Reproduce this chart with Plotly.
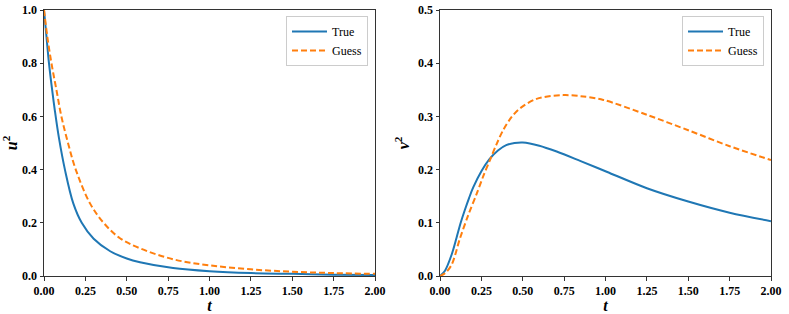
import plotly.graph_objects as go

# Left panel: u^2
t_u_true = [0, 0.015, 0.03, 0.045, 0.066, 0.09, 0.127, 0.177, 0.228, 0.3, 0.4, 0.5, 0.58, 0.78, 1.0, 1.25, 1.5, 1.75, 2.0]
u_true = [1.0, 0.9, 0.8, 0.72, 0.62, 0.52, 0.398, 0.273, 0.2, 0.14, 0.093, 0.066, 0.052, 0.03, 0.018, 0.011, 0.008, 0.005, 0.004]
t_u_guess = [0, 0.02, 0.045, 0.075, 0.105, 0.145, 0.193, 0.278, 0.36, 0.459, 0.58, 0.78, 1.0, 1.25, 1.5, 1.75, 2.0]
u_guess = [1.0, 0.9, 0.8, 0.7, 0.6, 0.5, 0.398, 0.273, 0.2, 0.142, 0.104, 0.063, 0.04, 0.025, 0.016, 0.011, 0.008]

# Right panel: v^2
t_v_true = [0, 0.03, 0.07, 0.1, 0.125, 0.15, 0.175, 0.2, 0.25, 0.3, 0.35, 0.4, 0.45, 0.5, 0.6, 0.705, 0.85, 1.007, 1.25, 1.5, 1.75, 2.0]
v_true = [0, 0.01, 0.04, 0.072, 0.1, 0.124, 0.146, 0.166, 0.197, 0.22, 0.236, 0.246, 0.25, 0.251, 0.245, 0.234, 0.216, 0.196, 0.165, 0.14, 0.119, 0.103]
t_v_guess = [0, 0.03, 0.07, 0.12, 0.17, 0.222, 0.262, 0.302, 0.342, 0.383, 0.433, 0.483, 0.584, 0.745, 0.85, 0.987, 1.25, 1.5, 1.75, 2.0]
v_guess = [0, 0.005, 0.021, 0.07, 0.114, 0.155, 0.188, 0.218, 0.248, 0.275, 0.299, 0.315, 0.333, 0.34, 0.338, 0.331, 0.303, 0.274, 0.244, 0.218]

x_ticks = [0, 0.25, 0.5, 0.75, 1.0, 1.25, 1.5, 1.75, 2.0]
x_tick_text = ["0.00", "0.25", "0.50", "0.75", "1.00", "1.25", "1.50", "1.75", "2.00"]
u_ticks = [0, 0.2, 0.4, 0.6, 0.8, 1.0]
u_tick_text = ["0.0", "0.2", "0.4", "0.6", "0.8", "1.0"]
v_ticks = [0, 0.1, 0.2, 0.3, 0.4, 0.5]
v_tick_text = ["0.0", "0.1", "0.2", "0.3", "0.4", "0.5"]

BLUE = "#1f77b4"
ORANGE = "#ff7f0e"
FONT = "Liberation Serif, DejaVu Serif, serif"

fig = go.Figure()
fig.add_trace(go.Scatter(x=t_u_true, y=u_true, mode="lines", name="True",
                         line=dict(color=BLUE, width=2, shape="spline", smoothing=1.0),
                         xaxis="x", yaxis="y", legend="legend"))
fig.add_trace(go.Scatter(x=t_u_guess, y=u_guess, mode="lines", name="Guess",
                         line=dict(color=ORANGE, width=2, dash="6px,3px", shape="spline", smoothing=1.0),
                         xaxis="x", yaxis="y", legend="legend"))
fig.add_trace(go.Scatter(x=t_v_true, y=v_true, mode="lines", name="True",
                         line=dict(color=BLUE, width=2, shape="spline", smoothing=0.9),
                         xaxis="x2", yaxis="y2", legend="legend2"))
fig.add_trace(go.Scatter(x=t_v_guess, y=v_guess, mode="lines", name="Guess",
                         line=dict(color=ORANGE, width=2, dash="6px,3px", shape="spline", smoothing=0.9),
                         xaxis="x2", yaxis="y2", legend="legend2"))

W, H = 789, 314
ydom = [(H - 276) / H, (H - 10) / H]

axis_common = dict(showline=True, linecolor="#333", linewidth=1, mirror=True,
                   ticks="outside", ticklen=3.5, tickwidth=1, tickcolor="#333",
                   showgrid=False, zeroline=False, automargin=False,
                   tickfont=dict(family=FONT, size=12, color="black", weight="bold"))

title_font = dict(family=FONT, size=16, color="black")
legend_common = dict(yanchor="top", xanchor="right",
                     bgcolor="rgba(255,255,255,0.8)", bordercolor="#cccccc", borderwidth=1,
                     font=dict(family=FONT, size=12), itemwidth=35, tracegroupgap=0)

fig.update_layout(
    width=W, height=H,
    margin=dict(l=0, r=0, t=0, b=0),
    paper_bgcolor="white", plot_bgcolor="white",
    font=dict(family=FONT, color="black"),
    xaxis=dict(domain=[44 / W, 375 / W], range=[0, 2], tickvals=x_ticks, ticktext=x_tick_text,
               title=dict(text="<b><i>t</i></b>", font=title_font, standoff=2), anchor="y", **axis_common),
    yaxis=dict(domain=ydom, range=[0, 1], tickvals=u_ticks, ticktext=u_tick_text,
               title=dict(text="<b><i>u</i><sup>2</sup></b>", font=title_font, standoff=4), anchor="x", **axis_common),
    xaxis2=dict(domain=[440 / W, 771 / W], range=[0, 2], tickvals=x_ticks, ticktext=x_tick_text,
                title=dict(text="<b><i>t</i></b>", font=title_font, standoff=2), anchor="y2", **axis_common),
    yaxis2=dict(domain=ydom, range=[0, 0.5], tickvals=v_ticks, ticktext=v_tick_text,
                title=dict(text="<b><i>v</i><sup>2</sup></b>", font=title_font, standoff=4), anchor="x2", **axis_common),
    legend=dict(x=368 / W, y=(H - 16) / H, **legend_common),
    legend2=dict(x=764 / W, y=(H - 16) / H, **legend_common),
)

fig.write_html("out.html", config={"displayModeBar": False},
               post_script="document.body.style.margin='0';")
